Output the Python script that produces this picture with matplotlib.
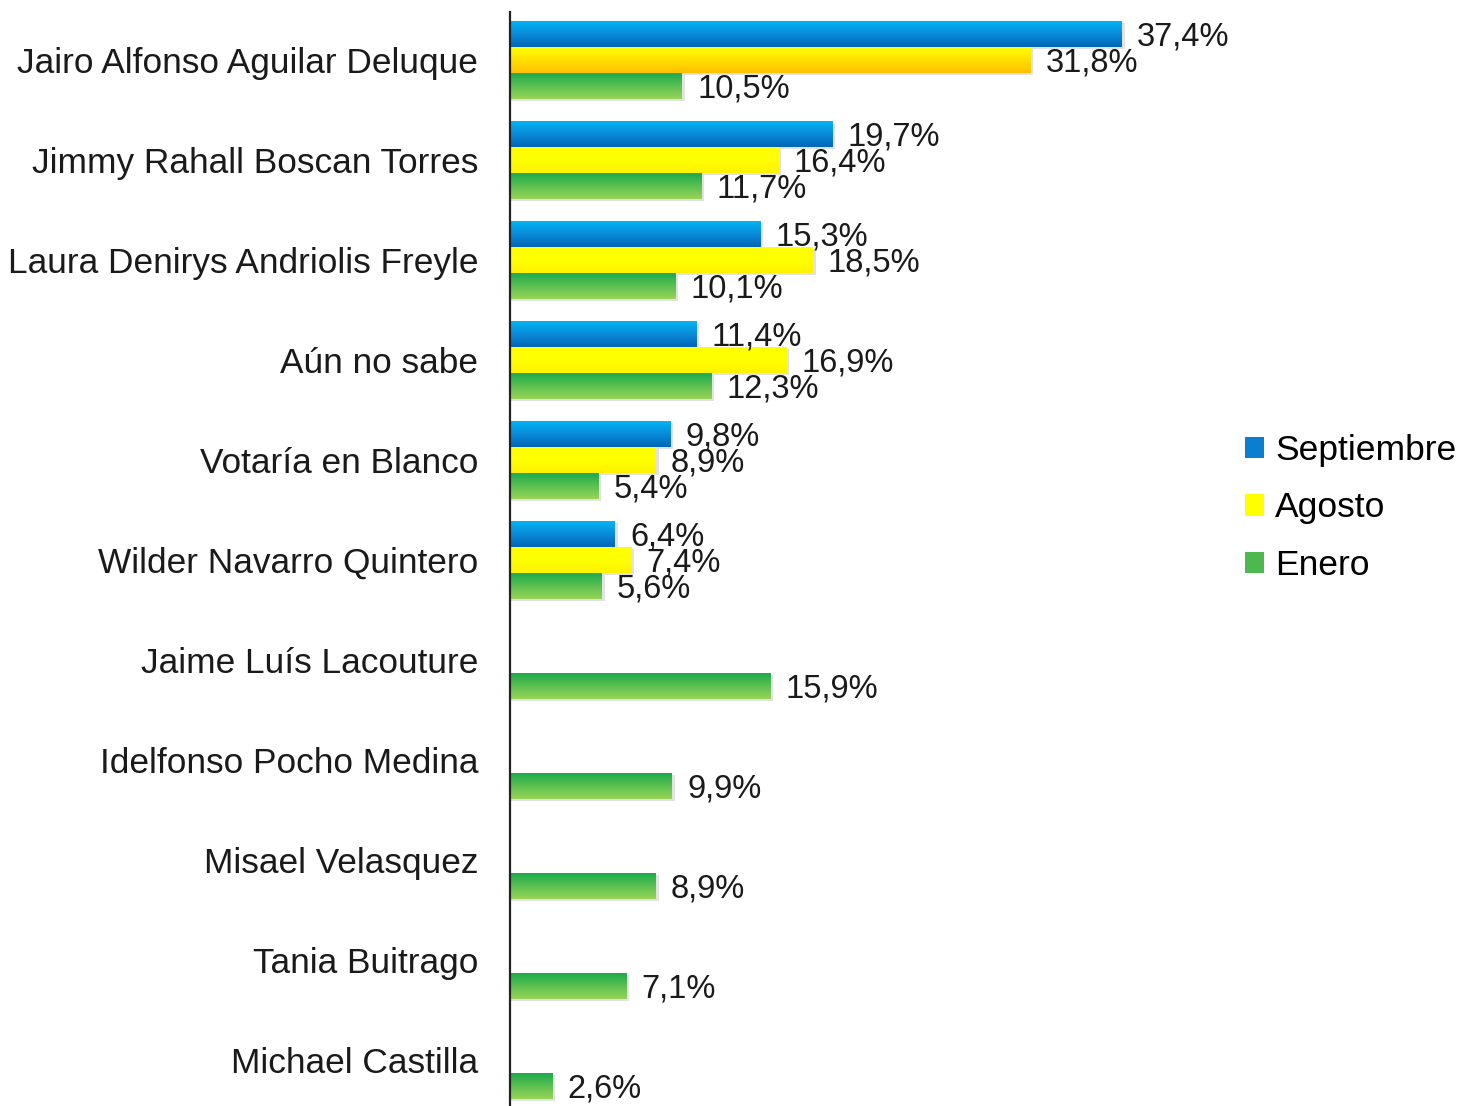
import numpy as np
import matplotlib
matplotlib.use("Agg")
import matplotlib.pyplot as plt
from matplotlib.colors import LinearSegmentedColormap
from matplotlib.patches import Patch

plt.rcParams['font.family'] = ['Liberation Sans', 'DejaVu Sans']

categories = [
    "Jairo Alfonso Aguilar Deluque",
    "Jimmy Rahall Boscan Torres",
    "Laura Denirys Andriolis Freyle",
    "Aún no sabe",
    "Votaría en Blanco",
    "Wilder Navarro Quintero",
    "Jaime Luís Lacouture",
    "Idelfonso Pocho Medina",
    "Misael Velasquez",
    "Tania Buitrago",
    "Michael Castilla",
]
septiembre = [37.4, 19.7, 15.3, 11.4, 9.8, 6.4, None, None, None, None, None]
agosto = [31.8, 16.4, 18.5, 16.9, 8.9, 7.4, None, None, None, None, None]
enero = [10.5, 11.7, 10.1, 12.3, 5.4, 5.6, 15.9, 9.9, 8.9, 7.1, 2.6]
series_names = ["Septiembre", "Agosto", "Enero"]

W, H = 1457, 1106
fig = plt.figure(figsize=(W / 100, H / 100), dpi=100)
ax_left, ax_right = 510, 1230
ax_top, ax_bottom = 12, 1106
ax = fig.add_axes([ax_left / W, 1 - ax_bottom / H, (ax_right - ax_left) / W, (ax_bottom - ax_top) / H])

px_per_pct = 16.36
xmax = (ax_right - ax_left) / px_per_pct

cmaps = {
    "Septiembre": LinearSegmentedColormap.from_list("b", ["#00b6f2", "#0a8ad8", "#0066b6"]),
    "Agosto": LinearSegmentedColormap.from_list("y", ["#ffff00", "#ffff00", "#fff200"]),
    "Enero": LinearSegmentedColormap.from_list("g", ["#1cab4c", "#5cc050", "#98d458"]),
}
orange_cmap = LinearSegmentedColormap.from_list("o", ["#ffff00", "#ffe000", "#ffc000"])
solid = {"Septiembre": "#0a8ad8", "Agosto": "#ffff00", "Enero": "#5cc050"}

bh = 0.26
offsets = [-bh, 0.0, bh]
grad = np.linspace(0, 1, 64).reshape(-1, 1)

for si, (name, vals) in enumerate(zip(series_names, [septiembre, agosto, enero])):
    for ci, v in enumerate(vals):
        if v is None:
            continue
        y = ci + offsets[si]
        # soft shadow
        ax.barh(y + 0.02, v + 0.18, height=bh, left=0, color="#e2e2e2", zorder=1, linewidth=0)
        bars = ax.barh(y, v, height=bh, left=0, color=solid[name], zorder=2, linewidth=0)
        patch = bars[0]
        cm = cmaps[name]
        if name == "Agosto" and ci == 0:
            cm = orange_cmap
        im = ax.imshow(grad, extent=[0, v, y + bh / 2, y - bh / 2], aspect="auto",
                       cmap=cm, origin="upper", zorder=3, interpolation="bilinear")
        im.set_clip_path(patch)
        ax.annotate(f"{v:.1f}".replace(".", ",") + "%", xy=(v, y), xytext=(11, -2),
                    textcoords="offset points", va="center", ha="left",
                    fontsize=23.5, color="#1a1a1a", zorder=5)

ax.set_ylim(10.46, -0.48)
ax.set_xlim(0, xmax)
ax.set_yticks(range(len(categories)))
ax.set_yticklabels(categories, fontsize=25.4, color="#1a1a1a")
ax.tick_params(axis="y", length=0, pad=23)
ax.set_xticks([])
for s in ["top", "right", "bottom"]:
    ax.spines[s].set_visible(False)
ax.spines["left"].set_linewidth(1.6)
ax.spines["left"].set_color("#222222")
ax.spines["left"].set_zorder(6)

handles = [Patch(facecolor="#0a7fd0", edgecolor="none"),
           Patch(facecolor="#ffff00", edgecolor="none"),
           Patch(facecolor="#4cb84e", edgecolor="none")]
fig.legend(handles, series_names, loc="center left", bbox_to_anchor=(1245 / W, 1 - 508 / H),
           frameon=False, fontsize=25.5, handlelength=0.55, handleheight=0.55,
           handletextpad=0.3, labelspacing=0.7, borderpad=0, borderaxespad=0)

fig.savefig("out.png", dpi=100, facecolor="white")
